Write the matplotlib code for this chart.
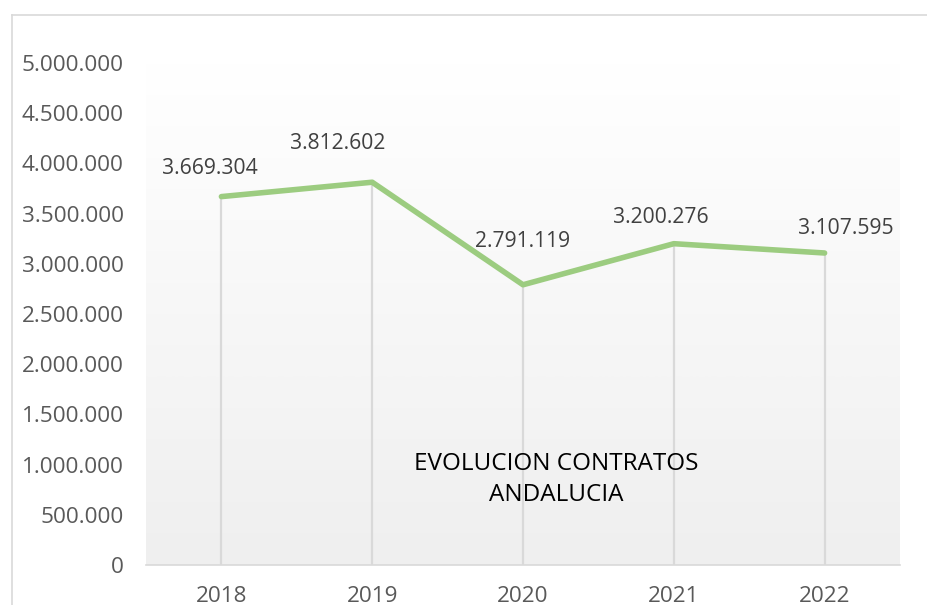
import numpy as np
import matplotlib
matplotlib.use("Agg")
import matplotlib.pyplot as plt
from matplotlib.lines import Line2D
from matplotlib.ticker import FuncFormatter

years = ["2018", "2019", "2020", "2021", "2022"]
contracts = [3669304, 3812602, 2791119, 3200276, 3107595]
y_ticks = list(range(0, 5000001, 500000))
title_text = "EVOLUCION CONTRATOS\nANDALUCIA"

# label offsets in pixels relative to each point
label_offsets = [(-12, 28), (-35, 39), (0, 43), (-13, 26), (21, 24)]

def thousands(v, _pos=None):
    return f"{int(v):,}".replace(",", ".")

plt.rcParams["font.family"] = ["Open Sans", "DejaVu Sans"]

W, H, DPI = 927, 605, 100
fig = plt.figure(figsize=(W / DPI, H / DPI), dpi=DPI)
fig.patch.set_facecolor("white")

# chart-area frame (partially visible at top and left)
fig.add_artist(Line2D([12 / W, 1.0], [1 - 15 / H, 1 - 15 / H],
                      transform=fig.transFigure, color="#d9d9d9", lw=1.2))
fig.add_artist(Line2D([12 / W, 12 / W], [0.0, 1 - 15 / H],
                      transform=fig.transFigure, color="#d9d9d9", lw=1.2))

left, right, top, bottom = 146, 900, 63, 565
ax = fig.add_axes([left / W, 1 - bottom / H, (right - left) / W, (bottom - top) / H])

x = np.arange(len(years))
ax.set_xlim(-0.5, len(years) - 0.5)
ax.set_ylim(0, 5000000)

# vertical gradient background of the plot area
t = np.linspace(0.0, 1.0, 256).reshape(-1, 1, 1)
top_c = np.array([1.0, 1.0, 1.0])
bot_c = np.array([0xef, 0xef, 0xef]) / 255
img = top_c * (1 - t) + bot_c * t
ax.imshow(img, extent=[-0.5, len(years) - 0.5, 0, 5000000], aspect="auto",
          zorder=0, origin="upper", interpolation="bilinear")

# drop lines from each point to the axis
ax.vlines(x, 0, contracts, color="#d9d9d9", lw=1.6, zorder=1)

ax.plot(x, contracts, color="#9ccc80", lw=4, solid_capstyle="round",
        solid_joinstyle="round", zorder=3)

for xi, v, (dx, dy) in zip(x, contracts, label_offsets):
    ax.annotate(thousands(v), (xi, v), xytext=(dx, dy), textcoords="offset pixels",
                ha="center", va="center", fontsize=15.2, color="#404040", zorder=4)

ax.text(2.22, 850000, title_text, ha="center", va="center", fontsize=17.5,
        color="black", linespacing=1.38, zorder=4)

ax.set_xticks(x)
ax.set_xticklabels(years)
ax.set_yticks(y_ticks)
ax.yaxis.set_major_formatter(FuncFormatter(thousands))
ax.tick_params(axis="both", length=0, labelsize=16.2, labelcolor="#595959")
ax.tick_params(axis="y", pad=16)
ax.tick_params(axis="x", pad=15)

for side in ["top", "right", "left"]:
    ax.spines[side].set_visible(False)
ax.spines["bottom"].set_color("#d9d9d9")
ax.spines["bottom"].set_linewidth(1.2)
ax.spines["bottom"].set_zorder(2)

fig.savefig("out.png", dpi=DPI, facecolor="white")
